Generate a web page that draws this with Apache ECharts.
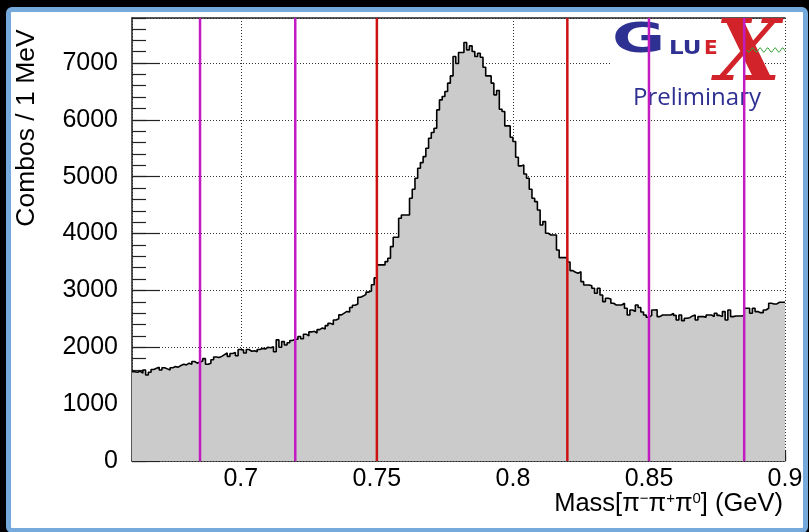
<!DOCTYPE html>
<html>
<head>
<meta charset="utf-8">
<script src="https://cdn.jsdelivr.net/npm/echarts@6/dist/echarts.min.js"></script>
<style>
  html, body { margin: 0; padding: 0; background: #000; width: 809px; height: 532px; overflow: hidden; }
  #frame { position: absolute; left: 6px; top: 7px; width: 792px; height: 516px;
           border: 5px solid #76a9dc; border-radius: 6px; background: #fff; }
  #chart { position: absolute; left: 0; top: 0; width: 809px; height: 532px; }
</style>
</head>
<body>
<div id="frame"></div>
<div id="chart"></div>
<script>
// pi- pi+ pi0 invariant mass, 1 MeV bins starting at 660 MeV
const firstBinMeV = 660;

// 0.660 - 0.684 GeV
const countsLowEdge = [1571, 1560, 1580, 1545, 1600, 1513, 1560, 1610, 1630, 1650,
  1600, 1640, 1620, 1600, 1640, 1660, 1650, 1680, 1700, 1690, 1720, 1700, 1750, 1720, 1740];
// 0.685 - 0.719 GeV (left sideband)
const countsLeftSideband = [1760, 1800, 1700, 1720, 1780, 1830, 1820, 1840, 1870, 1900,
  1840, 1890, 1910, 1850, 1960, 1950, 1900, 1960, 1930, 1940, 1920, 1960, 1980, 1970, 2000,
  1990, 2010, 1920, 2130, 2000, 2100, 2040, 2080, 2120, 2140];
// 0.720 - 0.749 GeV
const countsRise = [2140, 2190, 2150, 2230, 2200, 2270, 2280, 2250, 2310, 2340,
  2320, 2380, 2420, 2400, 2480, 2500, 2570, 2600, 2630, 2620,
  2700, 2740, 2760, 2880, 2900, 2930, 2970, 2990, 3100, 3220];
// 0.750 - 0.819 GeV (signal window)
const countsSignal = [3448, 3448, 3448, 3506, 3565, 3770, 3935, 3935, 4269, 4327,
  4327, 4327, 4621, 4779, 4973, 5148, 5247, 5353, 5500, 5676,
  5776, 5852, 6174, 6350, 6409, 6497, 6644, 6772, 7112, 6990,
  7183, 7183, 7358, 7230, 7300, 7200, 7112, 7171, 7100, 6925,
  6772, 6772, 6644, 6439, 6515, 6186, 6145, 5893, 5893, 5694,
  5617, 5342, 5189, 5206, 5048, 4973, 4779, 4621, 4561, 4415,
  4151, 4210, 4005, 3975, 3975, 3975, 3711, 3576, 3576, 3576];
// 0.820 - 0.849 GeV
const countsFall = [3500, 3348, 3320, 3301, 3330, 3154, 3096, 3096, 3080, 3037,
  2949, 3037, 2920, 2803, 2861, 2850, 2773, 2744, 2744, 2744,
  2773, 2686, 2568, 2656, 2627, 2744, 2700, 2620, 2568, 2527];
// 0.850 - 0.884 GeV (right sideband)
const countsRightSideband = [2560, 2656, 2660, 2539, 2568, 2568, 2568, 2568, 2597, 2560,
  2480, 2568, 2468, 2509, 2520, 2551, 2568, 2480, 2539, 2539,
  2527, 2568, 2568, 2539, 2597, 2560, 2539, 2627, 2480, 2656,
  2539, 2551, 2551, 2551, 2560];
// 0.885 - 0.899 GeV
const countsHighEdge = [2686, 2686, 2597, 2686, 2627, 2609, 2609, 2656, 2686, 2773,
  2762, 2762, 2791, 2791, 2791];

// selection boundaries (GeV)
const signalCuts = [0.75, 0.82];
const sidebandCuts = [0.685, 0.72, 0.85, 0.885];

const massMin = 0.66, massMax = 0.9;
const countMax = 7790;

const counts = [].concat(countsLowEdge, countsLeftSideband, countsRise, countsSignal,
  countsFall, countsRightSideband, countsHighEdge);
// step histogram: each bin starts at its low edge, closing point at the upper edge
const histData = counts.map((c, i) => [(firstBinMeV + i) / 1000, c]);
histData.push([(firstBinMeV + counts.length) / 1000, counts[counts.length - 1]]);

const FONT = '"Liberation Sans", Arial, Helvetica, sans-serif';
const AXIS_COLOR = '#222';
const NAVY = '#2e3192';
const LOGO_RED = '#d2232a';

// vertical cut line drawn as a two-point series spanning the full count range
function cutSeries(x, color) {
  return {
    type: 'line', xAxisIndex: 0, yAxisIndex: 0, data: [[x, 0], [x, countMax]],
    symbol: 'none', silent: true, z: 5,
    lineStyle: { color: color, width: 2.5, type: 'solid' }
  };
}

// little wavy line in the logo
const wavePts = [];
for (let px = 0; px <= 38; px += 1) {
  wavePts.push([747 + px, 50 + 2.2 * Math.sin(px / 7.5 * 2 * Math.PI)]);
}

const chart = echarts.init(document.getElementById('chart'), null, { renderer: 'canvas' });
chart.setOption({
  animation: false,
  backgroundColor: 'transparent',
  grid: { left: 132, top: 18, right: 24, bottom: 71, outerBoundsMode: 'none' },
  xAxis: [
    {
      type: 'value', min: massMin, max: massMax, splitNumber: 5, position: 'bottom',
      axisLine: { show: true, lineStyle: { color: AXIS_COLOR, width: 1.5 } },
      axisTick: { show: true, inside: true, length: 11, lineStyle: { color: AXIS_COLOR, width: 1.2 } },
      axisLabel: { showMinLabel: false, fontSize: 25, color: '#000', fontFamily: FONT, margin: 6 },
      splitLine: { show: true, lineStyle: { type: [1, 2], color: '#333', width: 1 } }
    },
    {
      type: 'value', min: massMin, max: massMax, interval: 0.01, position: 'bottom',
      axisLine: { show: false },
      axisTick: { show: true, inside: true, length: 6, lineStyle: { color: AXIS_COLOR, width: 1.2 } },
      axisLabel: { show: false }, splitLine: { show: false }
    },
    {
      type: 'value', min: massMin, max: massMax, position: 'top',
      axisLine: { show: true, lineStyle: { color: AXIS_COLOR, width: 1.5 } },
      axisTick: { show: false }, axisLabel: { show: false }, splitLine: { show: false }
    }
  ],
  yAxis: [
    {
      type: 'value', min: 0, max: countMax, interval: 1000, position: 'left',
      axisLine: { show: true, lineStyle: { color: AXIS_COLOR, width: 1.5 } },
      axisTick: { show: true, inside: true, length: 28, lineStyle: { color: AXIS_COLOR, width: 1.2 } },
      axisLabel: { showMaxLabel: false, fontSize: 25, color: '#000', fontFamily: FONT, margin: 14,
                   formatter: v => String(v) },
      splitLine: { show: true, lineStyle: { type: [1, 2], color: '#333', width: 1 } }
    },
    {
      type: 'value', min: 0, max: countMax, interval: 200, position: 'left',
      axisLine: { show: false },
      axisTick: { show: true, inside: true, length: 14, lineStyle: { color: AXIS_COLOR, width: 1.2 } },
      axisLabel: { show: false }, splitLine: { show: false }
    }
  ],
  graphic: [
    // logo backdrop
    { type: 'rect', z: 1, silent: true, shape: { x: 611, y: 22, width: 140, height: 90 }, style: { fill: '#fff' } },
    { type: 'text', z: 1, silent: true, x: 612, y: 41.5, scaleX: 1.62,
      style: { text: 'G', fontSize: 40, fontWeight: 'bold', fontFamily: '"DejaVu Sans"', fill: NAVY,
               align: 'left', verticalAlign: 'middle' } },
    { type: 'text', z: 1, silent: true, x: 669, y: 48.5, scaleX: 1.15,
      style: { text: 'LU', fontSize: 20, fontWeight: 'bold', fontFamily: '"DejaVu Sans"', fill: NAVY,
               align: 'left', verticalAlign: 'middle' } },
    { type: 'text', z: 1, silent: true, x: 704, y: 48.5,
      style: { text: 'E', fontSize: 20, fontWeight: 'bold', fontFamily: '"DejaVu Sans"', fill: LOGO_RED,
               align: 'left', verticalAlign: 'middle' } },
    { type: 'text', z: 1, silent: true, x: 748, y: 58,
      style: { text: 'X', fontSize: 84, fontWeight: 'bold', fontStyle: 'italic', fontFamily: '"DejaVu Serif"',
               fill: LOGO_RED, align: 'center', verticalAlign: 'middle' } },
    { type: 'polyline', z: 1, silent: true, shape: { points: wavePts },
      style: { stroke: '#3aa03a', lineWidth: 1, fill: null } },
    { type: 'text', z: 1, silent: true, x: 633, y: 98,
      style: { text: 'Preliminary', fontSize: 24, fontFamily: '"Open Sans"', fill: NAVY,
               align: 'left', verticalAlign: 'middle' } },
    // axis titles
    { type: 'text', silent: true, x: 26.5, y: 128, rotation: Math.PI / 2,
      style: { text: 'Combos / 1 MeV', fontSize: 26.5, fontFamily: FONT, fill: '#000',
               align: 'center', verticalAlign: 'middle' } },
    { type: 'text', silent: true, x: 783, y: 504,
      style: { text: 'Mass[π{sup|−}π{sup|+}π{sup|0}] (GeV)', fontSize: 25.5, fontFamily: FONT, fill: '#000',
               align: 'right', verticalAlign: 'middle',
               rich: { sup: { fontSize: 15, fontFamily: FONT, fill: '#000', verticalAlign: 'top' } } } }
  ],
  series: [
    {
      type: 'line', xAxisIndex: 0, yAxisIndex: 0, step: 'end', data: histData,
      symbol: 'none', silent: true, z: 2,
      lineStyle: { color: '#000', width: 1.6 },
      areaStyle: { color: '#cbcbcb', opacity: 1 }
    }
  ].concat(signalCuts.map(v => cutSeries(v, '#cc1111')))
   .concat(sidebandCuts.map(v => cutSeries(v, '#c21bc2')))
});
</script>
</body>
</html>
